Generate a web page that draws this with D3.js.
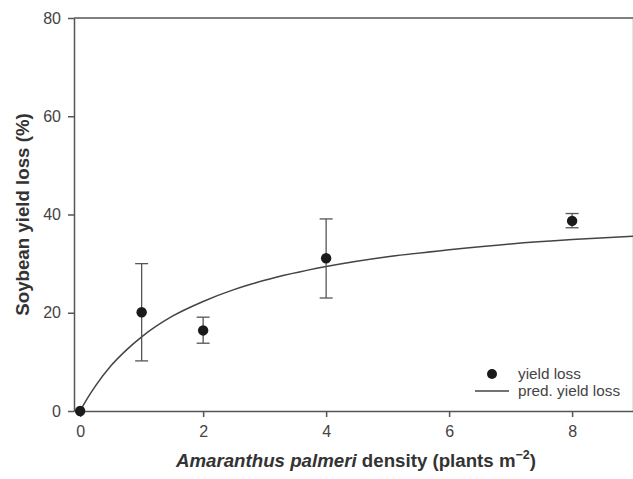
<!DOCTYPE html>
<html>
<head>
<meta charset="utf-8">
<script src="https://cdn.jsdelivr.net/npm/d3@7"></script>
<style>
  body { margin: 0; background: #fff; }
  svg { display: block; font-family: "Liberation Sans", Arial, sans-serif; }
  .axis path, .axis line { stroke: #555; stroke-width: 1.5; }
  .axis text { fill: #444; font-size: 16px; }
</style>
</head>
<body>
<div id="chart"></div>
<script>
// observed yield loss (mean with error bar ends)
var density = [0, 1, 2, 4, 8];
var yieldLoss = [0, 20.1, 16.4, 31.1, 38.7];
var errLow = [0, 10.2, 13.8, 23.0, 37.3];
var errHigh = [0, 30.0, 19.1, 39.1, 40.2];

// predicted curve
var predDensity = [0, 0.1, 0.25, 0.5, 0.75, 1, 1.5, 2, 2.5, 3, 4, 5, 6, 7, 8, 9];
var predLoss = [0, 2.2, 5.1, 9.2, 12.4, 15.1, 19.3, 22.3, 24.7, 26.6, 29.4, 31.4, 32.8, 34.0, 34.9, 35.6];

var xTicks = [0, 2, 4, 6, 8];
var yTicks = [0, 20, 40, 60, 80];

var W = 633, H = 479;
var svg = d3.select('#chart').append('svg')
  .attr('width', W)
  .attr('height', H);

var x = d3.scaleLinear().domain([-0.1, 9]).range([74, 633.6]);
var y = d3.scaleLinear().domain([0, 80]).range([411, 18]);

// frame top / right
svg.append('line')
  .attr('x1', x(-0.1)).attr('x2', x(9))
  .attr('y1', y(80)).attr('y2', y(80))
  .attr('stroke', '#555').attr('stroke-width', 1.5);
svg.append('line')
  .attr('x1', x(9)).attr('x2', x(9))
  .attr('y1', y(80)).attr('y2', y(0))
  .attr('stroke', '#555').attr('stroke-width', 1.5);

svg.append('g')
  .attr('class', 'axis')
  .attr('transform', 'translate(' + x(-0.1) + ',0)')
  .call(d3.axisLeft(y).tickValues(yTicks).tickSize(6).tickSizeOuter(0).tickPadding(7));

svg.append('g')
  .attr('class', 'axis')
  .attr('transform', 'translate(0,' + y(0) + ')')
  .call(d3.axisBottom(x).tickValues(xTicks).tickSize(6).tickSizeOuter(0).tickPadding(9));

// predicted line
var pred = predDensity.map(function(d, i) { return [d, predLoss[i]]; });
svg.append('path')
  .datum(pred)
  .attr('fill', 'none')
  .attr('stroke', '#444')
  .attr('stroke-width', 1.5)
  .attr('d', d3.line()
    .x(function(d) { return x(d[0]); })
    .y(function(d) { return y(d[1]); })
    .curve(d3.curveMonotoneX));

// error bars
var obs = density.map(function(d, i) {
  return {d: d, v: yieldLoss[i], lo: errLow[i], hi: errHigh[i]};
});
var eb = svg.append('g').selectAll('g')
  .data(obs.filter(function(o) { return o.hi > o.lo; }))
  .enter().append('g')
  .attr('stroke', '#555').attr('stroke-width', 1.3);
eb.append('line')
  .attr('x1', function(o) { return x(o.d); }).attr('x2', function(o) { return x(o.d); })
  .attr('y1', function(o) { return y(o.lo); }).attr('y2', function(o) { return y(o.hi); });
eb.append('line')
  .attr('x1', function(o) { return x(o.d) - 6.5; }).attr('x2', function(o) { return x(o.d) + 6.5; })
  .attr('y1', function(o) { return y(o.hi); }).attr('y2', function(o) { return y(o.hi); });
eb.append('line')
  .attr('x1', function(o) { return x(o.d) - 6.5; }).attr('x2', function(o) { return x(o.d) + 6.5; })
  .attr('y1', function(o) { return y(o.lo); }).attr('y2', function(o) { return y(o.lo); });

svg.append('g').selectAll('circle')
  .data(obs)
  .enter().append('circle')
  .attr('cx', function(o) { return x(o.d); })
  .attr('cy', function(o) { return y(o.v); })
  .attr('r', 5.2)
  .attr('fill', '#1a1a1a');

// legend
svg.append('circle').attr('cx', 492).attr('cy', 374).attr('r', 5).attr('fill', '#1a1a1a');
svg.append('text').attr('x', 518).attr('y', 379)
  .attr('font-size', 15.3).attr('fill', '#444').text('yield loss');
svg.append('line').attr('x1', 475).attr('x2', 509).attr('y1', 391).attr('y2', 391)
  .attr('stroke', '#444').attr('stroke-width', 1.3);
svg.append('text').attr('x', 518).attr('y', 396)
  .attr('font-size', 15.3).attr('fill', '#444').text('pred. yield loss');

// axis titles
svg.append('text')
  .attr('transform', 'translate(29,' + y(40) + ') rotate(-90)')
  .attr('text-anchor', 'middle')
  .attr('font-size', 18.7).attr('font-weight', 'bold').attr('fill', '#333')
  .text('Soybean yield loss (%)');

var xt = svg.append('text')
  .attr('x', 356).attr('y', 467)
  .attr('text-anchor', 'middle')
  .attr('font-size', 18.7).attr('font-weight', 'bold').attr('fill', '#333');
xt.append('tspan').attr('font-style', 'italic').text('Amaranthus palmeri');
xt.append('tspan').text(' density (plants m');
xt.append('tspan').attr('font-size', 12.5).attr('dy', -8).text('\u22122');
xt.append('tspan').attr('dy', 8).text(')');
</script>
</body>
</html>
